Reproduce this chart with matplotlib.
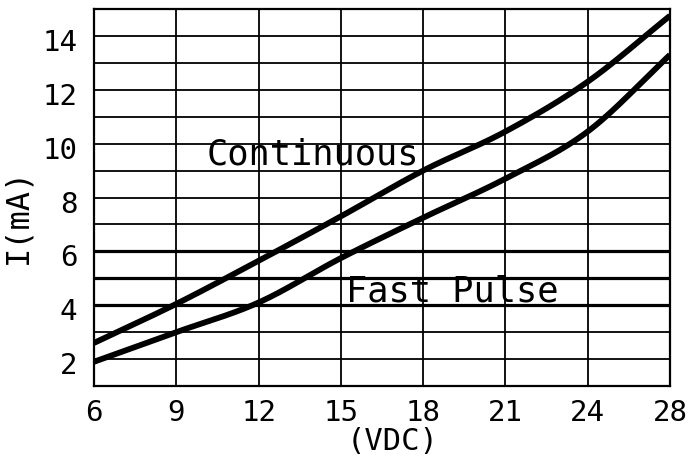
import numpy as np
import matplotlib
matplotlib.use('Agg')
import matplotlib.pyplot as plt
from matplotlib.transforms import ScaledTranslation

volts = [6, 9, 12, 15, 18, 21, 24, 28]
continuous = [2.6, 4.05, 5.65, 7.3, 9.0, 10.45, 12.3, 14.75]
fast_pulse = [1.9, 3.0, 4.1, 5.75, 7.25, 8.7, 10.45, 13.3]
y_ticks = [2, 4, 6, 8, 10, 12, 14]
thick_lines = [4, 5, 6]

# axis is evenly spaced per tick, last step is 24 -> 28
def fwd(v):
    v = np.asarray(v, dtype=float)
    return np.where(v <= 24, (v - 6) / 3.0, 6 + (v - 24) / 4.0)

def inv(p):
    p = np.asarray(p, dtype=float)
    return np.where(p <= 6, 6 + 3.0 * p, 24 + 4.0 * (p - 6))

def smooth(px, py, n=30):
    # catmull-rom through the points
    px = np.asarray(px, float); py = np.asarray(py, float)
    P = np.column_stack([px, py])
    P = np.vstack([2 * P[0] - P[1], P, 2 * P[-1] - P[-2]])
    out = []
    t = np.linspace(0, 1, n)[:, None]
    for i in range(1, len(P) - 2):
        p0, p1, p2, p3 = P[i - 1], P[i], P[i + 1], P[i + 2]
        seg = 0.5 * ((2 * p1) + (-p0 + p2) * t + (2 * p0 - 5 * p1 + 4 * p2 - p3) * t ** 2
                     + (-p0 + 3 * p1 - 3 * p2 + p3) * t ** 3)
        out.append(seg)
    out = np.vstack(out)
    return out[:, 0], out[:, 1]

plt.rcParams['font.family'] = ['DejaVu Sans Mono', 'DejaVu Sans']

fig = plt.figure(figsize=(6.95, 4.62), dpi=100)
ax = fig.add_axes([0.1353, 0.1645, 0.964 - 0.1353, 0.9805 - 0.1645])
ax.set_xscale('function', functions=(fwd, inv))
ax.set_xlim(6, 28)
ax.set_ylim(1, 15)

# grid
for v in volts:
    ax.axvline(v, color='black', lw=1.3, zorder=1)
for y in range(1, 16):
    lw = 2.3 if y in thick_lines else 1.3
    ax.axhline(y, color='black', lw=lw, zorder=1)

p = fwd(volts)
for vals in (continuous, fast_pulse):
    sx, sy = smooth(p, vals)
    ax.plot(inv(sx), sy, color='black', lw=4.2, solid_capstyle='butt', zorder=3)

ax.set_xticks(volts)
ax.set_xticklabels([str(v) for v in volts])
ax.set_yticks(y_ticks)
ax.set_yticklabels([str(v) for v in y_ticks])
ax.tick_params(length=0, labelsize=21)
ax.tick_params(axis='x', pad=9)
ax.tick_params(axis='y', pad=12)
for lab in ax.get_yticklabels():
    lab.set_transform(lab.get_transform() + ScaledTranslation(0, -0.04, fig.dpi_scale_trans))

for s in ax.spines.values():
    s.set_linewidth(1.6)

ax.set_xlabel('(VDC)', fontsize=22, labelpad=0)
ax.xaxis.set_label_coords(0.518, -0.108)
ax.set_ylabel('I(mA)', fontsize=23)
ax.yaxis.set_label_coords(-0.106, 0.45)

ax.text(10.1, 9.6, 'Continuous', fontsize=25.5, va='center', ha='left', zorder=4)
ax.text(15.2, 4.5, 'Fast Pulse', fontsize=25.5, va='center', ha='left', zorder=4)

fig.savefig('out.png', dpi=100)
